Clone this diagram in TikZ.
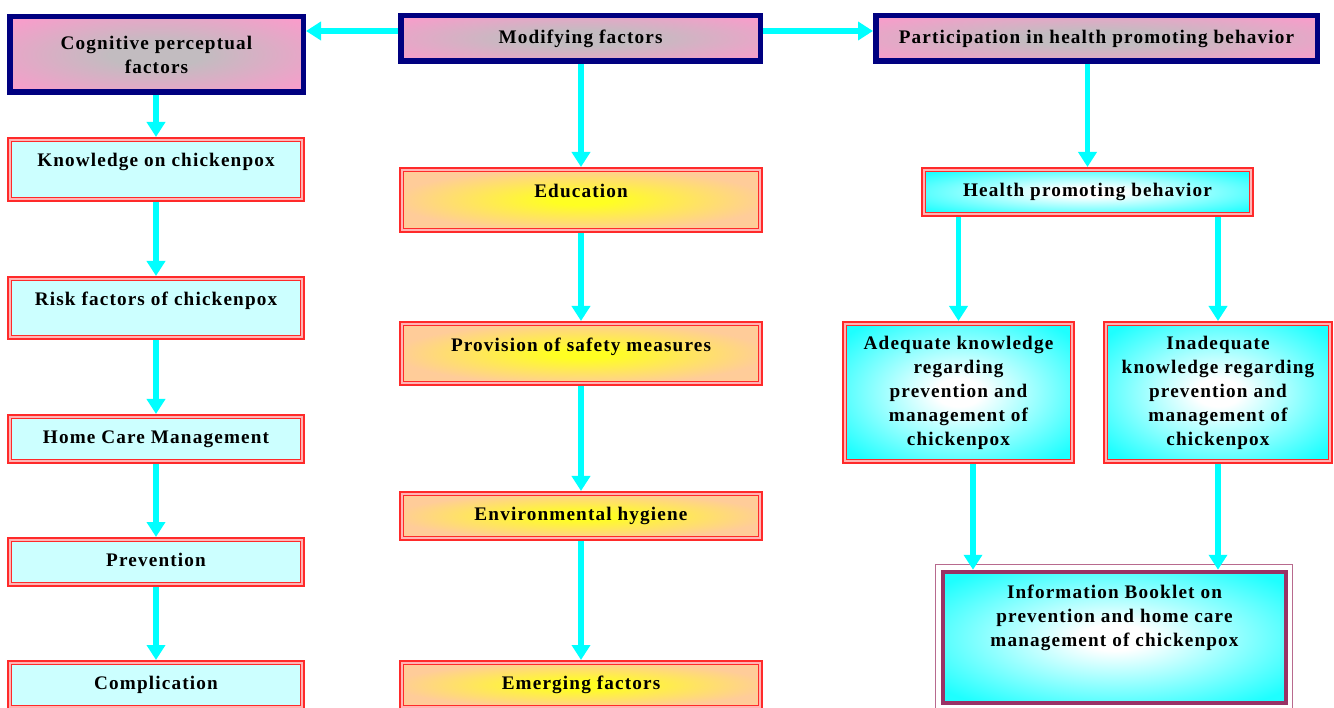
\documentclass[tikz,border=0pt]{standalone}
\usepackage{fontspec}
\setmainfont{Liberation Serif}[LetterSpace=6]
\usetikzlibrary{arrows.meta}
\definecolor{navy}{HTML}{000080}
\definecolor{boxred}{HTML}{FF2A2A}
\definecolor{gapred}{HTML}{FFB4B4}
\definecolor{arrcyan}{HTML}{00FFFF}
\definecolor{lcyan}{HTML}{CCFFFF}
\definecolor{bkmaroon}{HTML}{993366}
\definecolor{bkthin}{HTML}{B86A8E}
\definecolor{pinkc}{HTML}{FF99CC}
\definecolor{pinkgrey}{HTML}{C2BCC0}
\definecolor{peach}{HTML}{FFCC99}
\definecolor{yel}{HTML}{FFFF22}
\definecolor{brcyan}{HTML}{1EFFFF}
\definecolor{whitec}{HTML}{FFFFFF}
\pgfdeclareradialshading{pinkrad}{\pgfpoint{0bp}{0bp}}{color(0bp)=(pinkgrey); color(8bp)=(pinkgrey); color(36bp)=(pinkc); color(50bp)=(pinkc)}
\pgfdeclareradialshading{yelrad}{\pgfpoint{0bp}{0bp}}{color(0bp)=(yel); color(4bp)=(yel); color(26bp)=(peach); color(50bp)=(peach)}
\pgfdeclareradialshading{cyanrad}{\pgfpoint{0bp}{0bp}}{color(0bp)=(whitec); color(5bp)=(whitec); color(32bp)=(brcyan); color(50bp)=(brcyan)}
\tikzset{
  txt/.style={font=\bfseries\fontsize{19.2}{24}\selectfont, text=black, align=center},
  navybox/.style={txt, draw=navy, line width=5.5pt, shade, shading=pinkrad, inner sep=0pt},
  redbox/.style={txt, draw=boxred, double=gapred, double distance=2pt, line width=1.6pt, outer sep=2.6pt, inner sep=0pt},
  one/.style={text height=13pt, text depth=4pt},
  lbox/.style={redbox, one, fill=lcyan, minimum width=292.8pt},
  mbox/.style={redbox, one, shade, shading=yelrad, minimum width=358.8pt},
  cbox/.style={redbox, shade, shading=cyanrad},
  arr/.style={draw=arrcyan, line width=5.5pt, -{Triangle[width=18pt,length=15pt]}},
}
\begin{document}
\begin{tikzpicture}[x=1pt,y=-1pt]
\useasboundingbox (0,0) rectangle (1334,708);
\clip (0,0) rectangle (1334,708);
% top row
\node[navybox, minimum width=293.5pt, minimum height=75.5pt] (cog) at (156.5,54.5) {Cognitive perceptual\\factors};
\node[navybox, minimum width=359.5pt, minimum height=45.5pt] (mod) at (580.5,38.5) {Modifying factors};
\node[navybox, minimum width=441.5pt, minimum height=45.5pt] (part) at (1096.5,38.5) {Participation in health promoting behavior};
% left column
\node[lbox, minimum height=59.8pt, text depth=18pt] (know) at (156,169.5) {Knowledge on chickenpox};
\node[lbox, minimum height=58.8pt, text depth=17pt] (risk) at (156,308) {Risk factors of chickenpox};
\node[lbox, minimum height=44.8pt] (home) at (156,439) {Home Care Management};
\node[lbox, minimum height=44.8pt] (prev) at (156,562) {Prevention};
\node[lbox, minimum height=44.8pt] (comp) at (156,685) {Complication};
% middle column
\node[mbox, minimum height=60.8pt, text depth=17pt] (edu) at (581,200) {Education};
\node[mbox, minimum height=59.8pt, text depth=16pt] (prov) at (581,353.5) {Provision of safety measures};
\node[mbox, minimum height=44.8pt] (env) at (581,516) {Environmental hygiene};
\node[mbox, minimum height=44.8pt] (emer) at (581,685) {Emerging factors};
% right column
\node[cbox, one, minimum width=327.8pt, minimum height=44.8pt] (health) at (1087.5,192) {Health promoting behavior};
\node[cbox, minimum width=227.8pt, minimum height=137.8pt] (adeq) at (958.5,392.5) {Adequate knowledge\\regarding\\prevention and\\management of\\chickenpox};
\node[cbox, minimum width=224.8pt, minimum height=137.8pt] (inadeq) at (1218,392.5) {Inadequate\\knowledge regarding\\prevention and\\management of\\chickenpox};
\node[txt, draw=bkmaroon, line width=4.5pt, shade, shading=cyanrad, inner sep=0pt, minimum width=343pt, minimum height=131pt] (book) at (1114.5,637.5)
  {\raisebox{14.5pt}[0pt][0pt]{\begin{tabular}{@{}c@{}}Information Booklet on\\prevention and home care\\management of chickenpox\end{tabular}}};
\draw[bkthin, line width=1pt] ([shift={(-5pt,5pt)}]book.north west) rectangle ([shift={(4.5pt,-5pt)}]book.south east);
% connectors
\draw[arr] ([yshift=7.5pt]mod.west) -- ([yshift=7.5pt]mod.west -| cog.east);
\draw[arr] ([yshift=7.5pt]mod.east) -- ([yshift=7.5pt]mod.east -| part.west);
\draw[arr] (cog.south -| know.north) -- (know.north);
\draw[arr] (know) -- (risk);
\draw[arr] (risk) -- (home);
\draw[arr] (home) -- (prev);
\draw[arr] (prev) -- (comp);
\draw[arr] (mod.south -| edu.north) -- (edu.north);
\draw[arr] (edu) -- (prov);
\draw[arr] (prov) -- (env);
\draw[arr] (env) -- (emer);
\draw[arr] (part.south -| health.north) -- (health.north);
\draw[arr] (health.south -| adeq.north) -- (adeq.north);
\draw[arr] (health.south -| inadeq.north) -- (inadeq.north);
\draw[arr] ([xshift=14.5pt]adeq.south) -- ([xshift=14.5pt]adeq.south |- book.north);
\draw[arr] (inadeq.south) -- (inadeq.south |- book.north);
\end{tikzpicture}
\end{document}
